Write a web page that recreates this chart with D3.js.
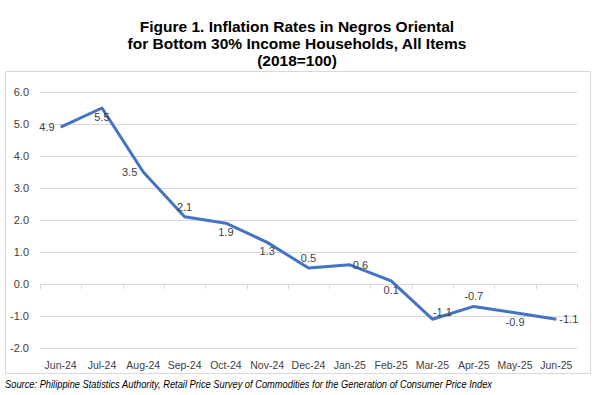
<!DOCTYPE html>
<meta charset="utf-8">
<title>Inflation Rates in Negros Oriental</title>
<style>
body { margin: 0; background: #fff; font-family: 'Liberation Sans', Arial, sans-serif; }
svg text { fill: #404040; }
.title { font-weight: bold; fill: #000; font-size: 15.5px; }
.grid line { stroke: #d9d9d9; }
</style>
<body>
<script src="https://d3js.org/d3.v7.min.js"></script>
<script>
// chart data
var months = ["Jun-24", "Jul-24", "Aug-24", "Sep-24", "Oct-24", "Nov-24", "Dec-24",
              "Jan-25", "Feb-25", "Mar-25", "Apr-25", "May-25", "Jun-25"];
var rates = [4.9, 5.5, 3.5, 2.1, 1.9, 1.3, 0.5, 0.6, 0.1, -1.1, -0.7, -0.9, -1.1];
var yTicks = [-2, -1, 0, 1, 2, 3, 4, 5, 6];
// where each data label sits relative to its point
var labelPos = ["left", "below", "left", "above", "below", "below", "above",
                "right", "below", "aboveRight", "above", "below", "right"];

var width = 598, height = 395;

// plain hyphen for negatives, like the original
var fmt = d3.formatLocale({decimal: ".", thousands: ",", grouping: [3], currency: ["", ""], minus: "-"}).format(".1f");

var svg = d3.select("body").append("svg")
    .attr("width", width)
    .attr("height", height);

// title
var titleLines = ["Figure 1. Inflation Rates in Negros Oriental",
                  "for Bottom 30% Income Households, All Items",
                  "(2018=100)"];
svg.selectAll("text.title")
    .data(titleLines)
    .enter().append("text")
    .attr("class", "title")
    .attr("x", 297)
    .attr("y", function(d, i) { return 32 + i * 17; })
    .attr("text-anchor", "middle")
    .text(function(d) { return d; });

// chart border
svg.append("rect")
    .attr("x", 5.5).attr("y", 71.5)
    .attr("width", 585).attr("height", 302)
    .attr("fill", "none")
    .attr("stroke", "#d9d9d9");

var x = d3.scaleBand()
    .domain(months)
    .range([40, 577]);

var y = d3.scaleLinear()
    .domain([-2, 6])
    .range([348, 92]);

// gridlines
svg.append("g")
    .attr("class", "grid")
    .selectAll("line")
    .data(yTicks)
    .enter().append("line")
    .attr("x1", 40).attr("x2", 577)
    .attr("y1", function(d) { return Math.round(y(d)) + 0.5; })
    .attr("y2", function(d) { return Math.round(y(d)) + 0.5; });

// y labels
svg.append("g")
    .selectAll("text")
    .data(yTicks)
    .enter().append("text")
    .attr("x", 29)
    .attr("y", function(d) { return y(d); })
    .attr("dy", "0.35em")
    .attr("text-anchor", "end")
    .attr("font-size", "11px")
    .text(function(d) { return fmt(d); });

// tick marks on zero line
var tickX = months.map(function(m) { return x(m); }).concat([577]);
svg.append("g")
    .selectAll("line")
    .data(tickX)
    .enter().append("line")
    .attr("x1", function(d) { return Math.round(d) + 0.5; })
    .attr("x2", function(d) { return Math.round(d) + 0.5; })
    .attr("y1", Math.round(y(0)))
    .attr("y2", Math.round(y(0)) + 5)
    .attr("stroke", "#d9d9d9");

// x labels
svg.append("g")
    .selectAll("text")
    .data(months)
    .enter().append("text")
    .attr("x", function(d) { return x(d) + x.bandwidth() / 2; })
    .attr("y", 365)
    .attr("dy", "0.35em")
    .attr("text-anchor", "middle")
    .attr("font-size", "10.5px")
    .text(function(d) { return d; });

// line
var line = d3.line()
    .x(function(d, i) { return x(months[i]) + x.bandwidth() / 2; })
    .y(function(d) { return y(d); });

svg.append("path")
    .datum(rates)
    .attr("d", line)
    .attr("fill", "none")
    .attr("stroke", "#4472c4")
    .attr("stroke-width", 3)
    .attr("stroke-linejoin", "round");

// data labels
var offsets = {
  left: [-6, 0, "end"],
  right: [3, 0, "start"],
  above: [0, -10, "middle"],
  below: [0, 9, "middle"],
  aboveRight: [10, -7, "middle"]
};
svg.append("g")
    .selectAll("text")
    .data(rates)
    .enter().append("text")
    .attr("x", function(d, i) { return x(months[i]) + x.bandwidth() / 2 + offsets[labelPos[i]][0]; })
    .attr("y", function(d, i) { return y(d) + offsets[labelPos[i]][1]; })
    .attr("dy", "0.35em")
    .attr("text-anchor", function(d, i) { return offsets[labelPos[i]][2]; })
    .attr("font-size", "11px")
    .text(function(d) { return fmt(d); });

// source
svg.append("text")
    .attr("x", 5)
    .attr("y", 388)
    .attr("font-size", "10.5px")
    .attr("font-style", "italic")
    .attr("textLength", 487)
    .attr("lengthAdjust", "spacingAndGlyphs")
    .style("fill", "#000")
    .text("Source: Philippine Statistics Authority, Retail Price Survey of Commodities for the Generation of Consumer Price Index");
</script>
</body>
